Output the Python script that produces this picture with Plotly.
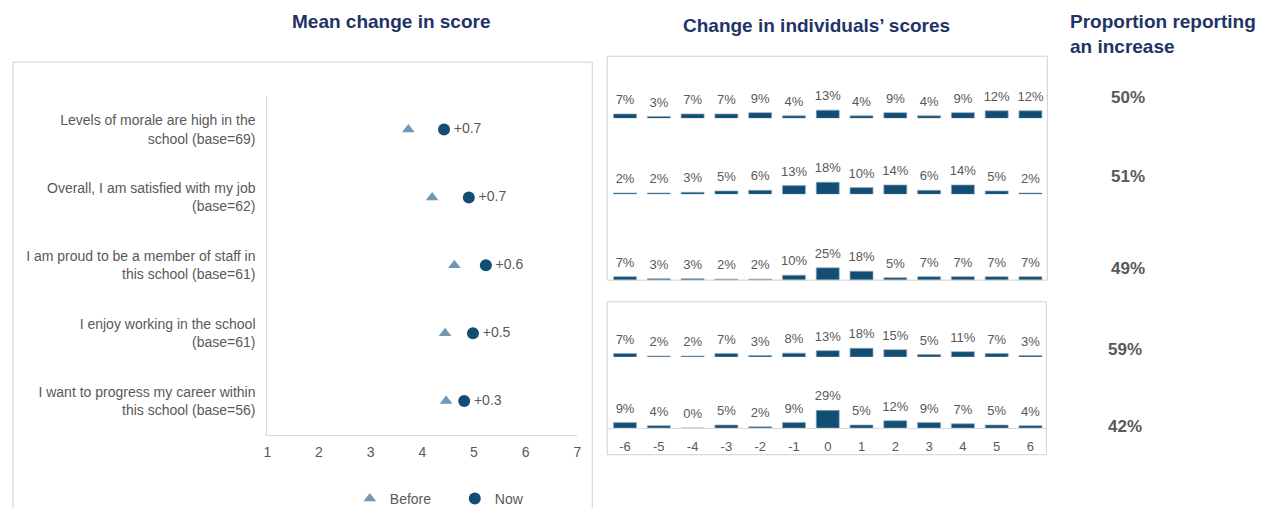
import plotly.graph_objects as go

# ---------------- data ----------------
statements = [
    "Levels of morale are high in the<br>school (base=69)",
    "Overall, I am satisfied with my job<br>(base=62)",
    "I am proud to be a member of staff in<br>this school (base=61)",
    "I enjoy working in the school<br>(base=61)",
    "I want to progress my career within<br>this school (base=56)",
]
before_scores = [3.73, 4.19, 4.62, 4.44, 4.46]
now_scores = [4.42, 4.90, 5.23, 4.98, 4.81]
mean_change_labels = ["+0.7", "+0.7", "+0.6", "+0.5", "+0.3"]

score_changes = [-6, -5, -4, -3, -2, -1, 0, 1, 2, 3, 4, 5, 6]
score_change_labels = ["-6", "-5", "-4", "-3", "-2", "-1", "0", "1", "2", "3", "4", "5", "6"]
dist_morale = [7, 3, 7, 7, 9, 4, 13, 4, 9, 4, 9, 12, 12]
dist_satisfied = [2, 2, 3, 5, 6, 13, 18, 10, 14, 6, 14, 5, 2]
dist_proud = [7, 3, 3, 2, 2, 10, 25, 18, 5, 7, 7, 7, 7]
dist_enjoy = [7, 2, 2, 7, 3, 8, 13, 18, 15, 5, 11, 7, 3]
dist_progress = [9, 4, 0, 5, 2, 9, 29, 5, 12, 9, 7, 5, 4]

proportion_increase = ["50%", "51%", "49%", "59%", "42%"]

# ---------------- styling ----------------
W, H = 1261, 515
FONT = "Liberation Sans, Arial, sans-serif"
GRAY = "#595959"
NAVY = "#1F3466"
DARK = "#124E74"
LIGHT = "#7097B4"
BORDER = "#D0D0D0"


def fx(px):
    return px / W


def fy(py):
    return 1 - py / H


fig = go.Figure()

# ---- left: dot plot ----
fig.add_trace(go.Scatter(
    x=before_scores, y=statements, mode="markers", name="Before",
    marker=dict(symbol="triangle-up", size=11, color=LIGHT),
    xaxis="x", yaxis="y", cliponaxis=False))
fig.add_trace(go.Scatter(
    x=now_scores, y=statements, mode="markers", name="Now",
    marker=dict(symbol="circle", size=12, color=DARK),
    xaxis="x", yaxis="y", cliponaxis=False))
fig.add_trace(go.Scatter(
    x=now_scores, y=statements, mode="markers+text", text=mean_change_labels,
    marker=dict(size=14, color="rgba(0,0,0,0)"),
    textposition="middle right", textfont=dict(size=14, color=GRAY, family=FONT),
    showlegend=False, hoverinfo="skip", xaxis="x", yaxis="y", cliponaxis=False))

# ---- middle: distributions ----
rows = [dist_morale, dist_satisfied, dist_proud, dist_enjoy, dist_progress]
baselines = [120, 197, 284, 362, 434]
px_per_pct = [0.64, 0.68, 0.5, 0.5, 0.62]
ROW_H = 40

layout_axes = {}
for i, (dist, base, sc) in enumerate(zip(rows, baselines, px_per_pct)):
    n = i + 2
    fig.add_trace(go.Bar(
        x=score_changes, y=dist, xaxis=f"x{n}", yaxis=f"y{n}",
        marker=dict(color=DARK, line=dict(color="#8FAAC0", width=0.7)),
        showlegend=False, hoverinfo="x+y"))
    fig.add_trace(go.Scatter(
        x=score_changes, y=dist, xaxis=f"x{n}", yaxis=f"y{n}",
        mode="markers+text", texttemplate="%{y}%", textposition="top center",
        marker=dict(size=9, color="rgba(0,0,0,0)"),
        textfont=dict(size=13, color=GRAY, family=FONT),
        cliponaxis=False, showlegend=False, hoverinfo="skip"))
    last = (i == len(rows) - 1)
    layout_axes[f"xaxis{n}"] = dict(
        domain=[fx(608), fx(1050)], anchor=f"y{n}",
        range=[-6.5, 6.5], tickvals=score_changes if last else [],
        ticktext=score_change_labels if last else [],
        showticklabels=last, showgrid=False, zeroline=False,
        showline=last, linecolor="#D9D9D9", linewidth=1,
        tickfont=dict(size=13, color=GRAY, family=FONT),
        ticklabelstandoff=6)
    layout_axes[f"yaxis{n}"] = dict(
        domain=[fy(base), fy(base - ROW_H)], anchor=f"x{n}",
        range=[0, ROW_H / sc], visible=False)

# ---- annotations ----
annotations = [
    dict(text="<b>Mean change in score</b>", x=fx(390), y=fy(22), xref="paper", yref="paper",
         xanchor="center", yanchor="middle", showarrow=False,
         font=dict(size=19, color=NAVY, family=FONT)),
    dict(text="<b>Change in individuals’ scores</b>", x=fx(818), y=fy(26), xref="paper", yref="paper",
         xanchor="center", yanchor="middle", showarrow=False,
         font=dict(size=19, color=NAVY, family=FONT)),
    dict(text="<b>Proportion reporting<br>an increase</b>", x=fx(1071), y=fy(34), xref="paper", yref="paper",
         xanchor="left", yanchor="middle", align="left", showarrow=False,
         font=dict(size=19, color=NAVY, family=FONT)),
]
prop_x = [1131, 1131, 1131, 1128, 1128]
prop_y = [99, 179, 272, 354, 432]
for t, xx, yy in zip(proportion_increase, prop_x, prop_y):
    annotations.append(dict(text=f"<b>{t}</b>", x=fx(xx), y=fy(yy), xref="paper", yref="paper",
                            xanchor="center", yanchor="middle", showarrow=False,
                            font=dict(size=17, color=GRAY, family=FONT)))

# ---- frames ----
shapes = [
    dict(type="path", xref="paper", yref="paper",
         path=f"M {fx(9)},{fy(515)} L {fx(9)},{fy(63)} L {fx(592)},{fy(63)} L {fx(592)},{fy(515)}",
         line=dict(color=BORDER, width=1)),
    dict(type="rect", xref="paper", yref="paper",
         x0=fx(607), x1=fx(1050), y0=fy(284), y1=fy(57), line=dict(color=BORDER, width=1)),
    dict(type="rect", xref="paper", yref="paper",
         x0=fx(607), x1=fx(1049), y0=fy(461), y1=fy(306), line=dict(color=BORDER, width=1)),
]

fig.update_layout(
    width=W, height=H, autosize=False,
    margin=dict(l=0, r=0, t=0, b=0),
    paper_bgcolor="white", plot_bgcolor="white",
    font=dict(family=FONT, color=GRAY, size=14),
    bargap=0.32,
    xaxis=dict(domain=[fx(265), fx(577)], anchor="y", range=[1, 7], dtick=1,
               showgrid=False, zeroline=False, showline=True, linecolor="#D9D9D9",
               linewidth=1, ticks="", tickfont=dict(size=14, color=GRAY, family=FONT),
               ticklabelstandoff=4),
    yaxis=dict(domain=[fy(441), fy(97)], anchor="x", type="category",
               categoryarray=statements, range=[4.5, -0.5],
               showgrid=False, zeroline=False, showline=True, linecolor="#D9D9D9",
               linewidth=1, ticks="", tickfont=dict(size=14, color=GRAY, family=FONT),
               ticklabelstandoff=8),
    legend=dict(orientation="h", x=fx(348), y=fy(506), xanchor="left", yanchor="middle",
                font=dict(size=14, color=GRAY, family=FONT), entrywidth=60,
                entrywidthmode="pixels", bgcolor="rgba(0,0,0,0)"),
    annotations=annotations,
    shapes=shapes,
    **layout_axes,
)

fig.write_html("out.html", config={"displayModeBar": False},
               post_script="document.body.style.margin='0px';document.body.style.overflow='hidden';")
